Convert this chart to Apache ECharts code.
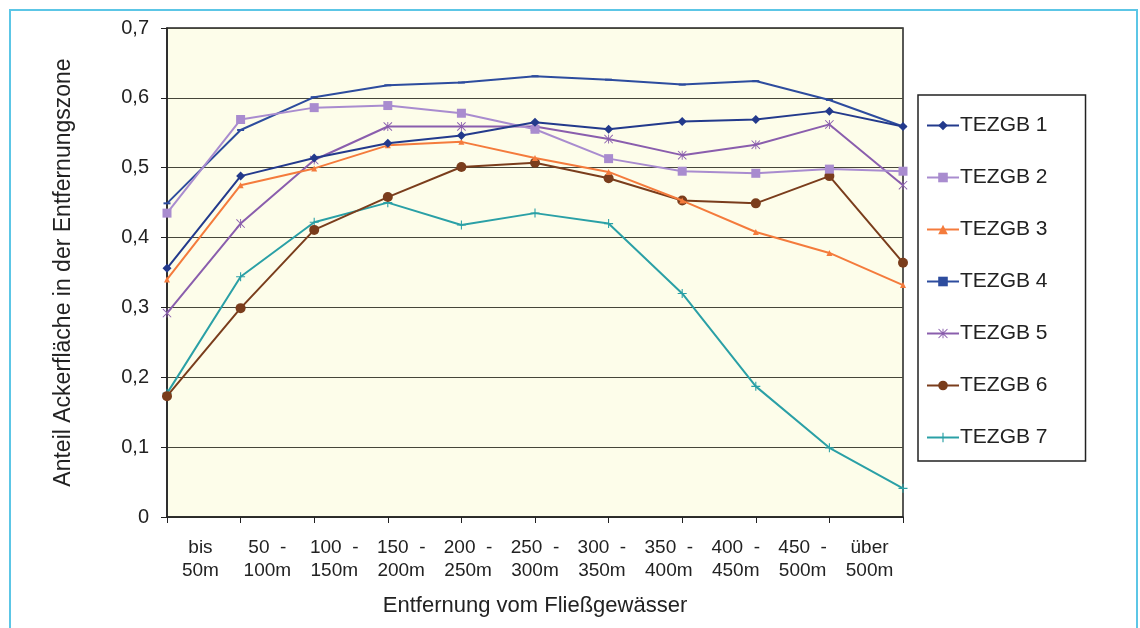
<!DOCTYPE html>
<html><head><meta charset="utf-8">
<script src="https://cdn.jsdelivr.net/npm/echarts@6/dist/echarts.min.js"></script>
<style>html,body{margin:0;padding:0;background:#fff}#c{width:1140px;height:628px}</style>
</head><body><div id="c"></div>
<script>
const categories = ["bis\n50m","50  -\n100m","100  -\n150m","150  -\n200m","200  -\n250m","250  -\n300m","300  -\n350m","350  -\n400m","400  -\n450m","450  -\n500m","über\n500m"];
const yTickLabels = ["0","0,1","0,2","0,3","0,4","0,5","0,6","0,7"];
const seriesNames = ["TEZGB 1","TEZGB 2","TEZGB 3","TEZGB 4","TEZGB 5","TEZGB 6","TEZGB 7"];
const tezgb1 = [0.356,0.488,0.514,0.535,0.546,0.565,0.555,0.566,0.569,0.581,0.559];
const tezgb2 = [0.435,0.569,0.586,0.589,0.578,0.555,0.513,0.495,0.492,0.498,0.495];
const tezgb3 = [0.340,0.475,0.499,0.532,0.537,0.514,0.494,0.453,0.408,0.378,0.332];
const tezgb4 = [0.449,0.554,0.601,0.618,0.622,0.631,0.626,0.619,0.624,0.597,0.559];
const tezgb5 = [0.292,0.420,0.511,0.559,0.559,0.559,0.541,0.518,0.533,0.562,0.475];
const tezgb6 = [0.173,0.299,0.411,0.458,0.501,0.507,0.485,0.453,0.449,0.488,0.364];
const tezgb7 = [0.177,0.344,0.422,0.450,0.418,0.435,0.420,0.320,0.187,0.099,0.041];
const allData = [tezgb1,tezgb2,tezgb3,tezgb4,tezgb5,tezgb6,tezgb7];

const colors = ['#233a8c','#a98ccf','#f47b3c','#2d4c9e','#8a5ead','#7a3d1c','#2aa0a6'];
const plus = 'path://M4.4,0H5.6V4.4H10V5.6H5.6V10H4.4V5.6H0V4.4H4.4Z';
const aster = 'path://M0.7,0L5,4.3L9.3,0L10,0.7L5.7,5L10,9.3L9.3,10L5,5.7L0.7,10L0,9.3L4.3,5L0,0.7Z M4.5,0H5.5V10H4.5Z';
const symbols = ['diamond','rect','triangle','rect',aster,'circle',plus];
const sizes = [9,9,6,[7,2],9,10,9];
const FONT = 'Liberation Sans';

const chart = echarts.init(document.getElementById('c'), null, {renderer:'canvas'});
chart.setOption({
  backgroundColor:'#ffffff',
  animation:false,
  textStyle:{fontFamily:FONT,color:'#222'},
  graphic:[{type:'rect',shape:{x:10,y:10,width:1127,height:630},style:{fill:'none',stroke:'#5cc6e6',lineWidth:2},z:-1}],
  grid:{left:167,top:28,right:237,bottom:111,show:true,backgroundColor:'#fdfdea',borderColor:'#222',borderWidth:1.5},
  legend:{
    orient:'vertical',left:918,top:95,
    backgroundColor:'#fff',borderColor:'#222',borderWidth:1.5,
    padding:[20,38,13,8],itemGap:31,itemWidth:32,itemHeight:12,
    textStyle:{fontSize:21,color:'#222',fontFamily:FONT,padding:[0,0,0,-4]},
    data:seriesNames
  },
  xAxis:[
    {type:'category',data:categories,boundaryGap:false,gridIndex:0,
     axisLine:{lineStyle:{color:'#222',width:1.5}},
     axisTick:{show:true,length:6,lineStyle:{color:'#222'}},
     axisLabel:{show:false},splitLine:{show:false},
     name:'Entfernung vom Fließgewässer',nameLocation:'middle',nameGap:78,
     nameTextStyle:{fontSize:22,color:'#222',fontFamily:FONT}},
    {type:'category',data:categories,boundaryGap:true,gridIndex:0,position:'bottom',
     axisLine:{show:false},axisTick:{show:false},splitLine:{show:false},
     axisLabel:{show:true,interval:0,fontSize:19,color:'#222',lineHeight:23,margin:19,fontFamily:FONT}}
  ],
  yAxis:{type:'value',min:0,max:0.7,interval:0.1,
    axisLine:{show:true,lineStyle:{color:'#222',width:1.5}},
    axisTick:{show:true,length:6,lineStyle:{color:'#222'}},
    axisLabel:{fontSize:20,color:'#222',margin:18,fontFamily:FONT,
      formatter:(v)=>yTickLabels[Math.round(v*10)]},
    splitLine:{show:true,lineStyle:{color:'#46463a',width:1}},
    name:'Anteil Ackerfläche in der Entfernungszone',nameLocation:'middle',nameGap:92,
    nameTextStyle:{fontSize:23,color:'#222',fontFamily:FONT}},
  series: seriesNames.map((n,i)=>({
    name:n,type:'line',xAxisIndex:0,data:allData[i],
    symbol:symbols[i],symbolSize:sizes[i],showAllSymbol:true,
    lineStyle:{color:colors[i],width:2},
    itemStyle:{color:colors[i]},
    z:10-i
  }))
});
</script></body></html>
